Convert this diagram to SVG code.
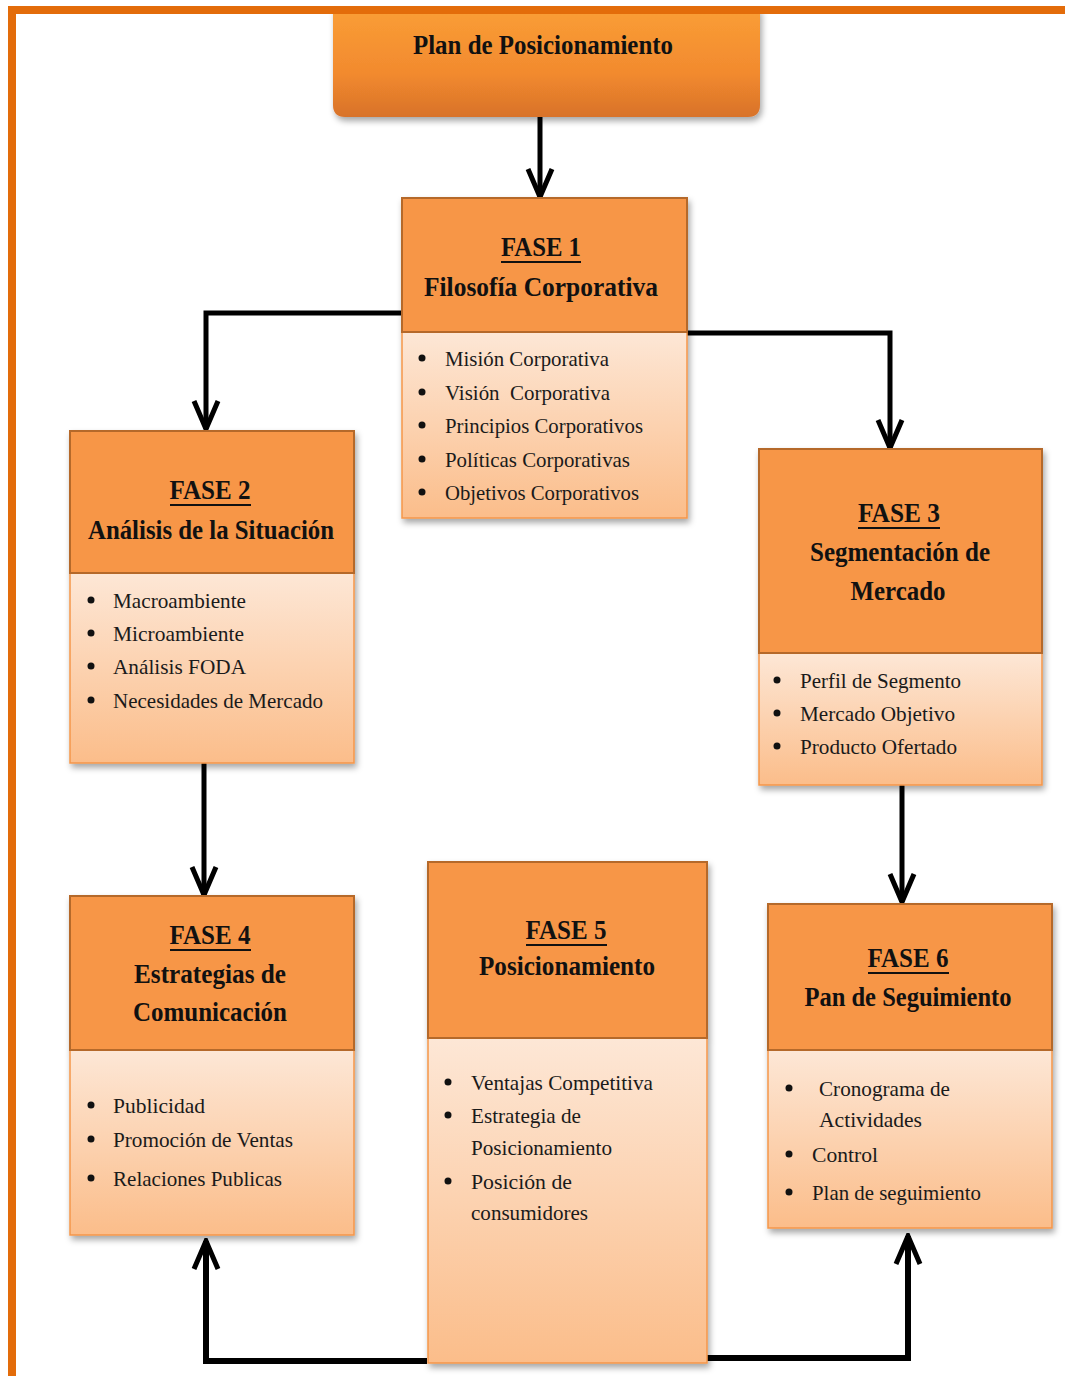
<svg xmlns="http://www.w3.org/2000/svg" width="1065" height="1376" viewBox="0 0 1065 1376">
  <style>
    .hdr { fill: #f79646; stroke: #b5692c; stroke-width: 2; }
    .body { fill: url(#bodyGrad); stroke: #f5964a; stroke-width: 1.5; }
    .title { font-family: "Liberation Serif", "DejaVu Serif", serif; font-weight: bold; font-size: 27px; fill: #111; text-anchor: middle; }
    .item { font-family: "Liberation Serif", "DejaVu Serif", serif; font-size: 22px; fill: #1a1a1a; }
    .ul { stroke: #111; stroke-width: 2; }
    .bullet { fill: #111; }
    .conn { fill: none; stroke: #000; stroke-width: 5; }
  </style>
  <defs>
    <linearGradient id="bodyGrad" x1="0" y1="0" x2="0" y2="1">
      <stop offset="0" stop-color="#fde7d6"/>
      <stop offset="1" stop-color="#fbbd8a"/>
    </linearGradient>
    <linearGradient id="topGrad" x1="0" y1="0" x2="0" y2="1">
      <stop offset="0" stop-color="#fa9e36"/>
      <stop offset="0.6" stop-color="#f28a2e"/>
      <stop offset="1" stop-color="#d8722a"/>
    </linearGradient>
    <filter id="shadow" x="-10%" y="-10%" width="125%" height="125%">
      <feDropShadow dx="2" dy="4" stdDeviation="3" flood-color="#000" flood-opacity="0.35"/>
    </filter>
    <!-- open chevron arrowhead shared by all connectors -->
    <marker id="head" viewBox="0 0 34 30" refX="31" refY="15" markerWidth="34" markerHeight="30" markerUnits="userSpaceOnUse" orient="auto">
      <path d="M3,3 L31,15 L3,27" fill="none" stroke="#000" stroke-width="5" stroke-linejoin="miter"/>
    </marker>
  </defs>

  <rect width="1065" height="1376" fill="#fff"/>

  <!-- connectors -->
  <g id="connectors">
    <path class="conn" d="M540,117 V197" marker-end="url(#head)"/>
    <path class="conn" d="M403,313 H206 V429" marker-end="url(#head)"/>
    <path class="conn" d="M687,333 H890 V448" marker-end="url(#head)"/>
    <path class="conn" d="M204,763 V895" marker-end="url(#head)"/>
    <path class="conn" d="M902,785 V902" marker-end="url(#head)"/>
    <path class="conn" d="M427,1361 H206 V1241" style="stroke-width:6" marker-end="url(#head)"/>
    <path class="conn" d="M707,1358 H908 V1236" style="stroke-width:6" marker-end="url(#head)"/>
  </g>

  <!-- root node -->
  <g id="plan">
    <path d="M333,8 H760 V105 Q760,117 748,117 H345 Q333,117 333,105 Z" fill="url(#topGrad)" filter="url(#shadow)"/>
    <text class="title" x="543" y="54" font-size="26" textLength="260" lengthAdjust="spacingAndGlyphs">Plan de Posicionamiento</text>
  </g>

  <!-- FASE 1 -->
  <g id="fase1">
    <g filter="url(#shadow)">
      <rect class="body" x="402" y="332" width="285" height="186"/>
      <rect class="hdr" x="402" y="198" width="285" height="134"/>
    </g>
    <text class="title" x="541" y="256" textLength="80" lengthAdjust="spacingAndGlyphs">FASE 1</text>
    <line class="ul" x1="501" y1="262" x2="581" y2="262"/>
    <text class="title" x="541" y="296" textLength="234" lengthAdjust="spacingAndGlyphs">Filosofía Corporativa</text>
    <circle class="bullet" cx="422" cy="358" r="3.5"/>
    <circle class="bullet" cx="422" cy="392" r="3.5"/>
    <circle class="bullet" cx="422" cy="425" r="3.5"/>
    <circle class="bullet" cx="422" cy="459" r="3.5"/>
    <circle class="bullet" cx="422" cy="492" r="3.5"/>
    <text class="item" x="445" y="366" textLength="164" lengthAdjust="spacingAndGlyphs">Misión Corporativa</text>
    <text class="item" x="445" y="400" textLength="165" lengthAdjust="spacingAndGlyphs" xml:space="preserve">Visión  Corporativa</text>
    <text class="item" x="445" y="433" textLength="198" lengthAdjust="spacingAndGlyphs">Principios Corporativos</text>
    <text class="item" x="445" y="467" textLength="185" lengthAdjust="spacingAndGlyphs">Políticas Corporativas</text>
    <text class="item" x="445" y="500" textLength="194" lengthAdjust="spacingAndGlyphs">Objetivos Corporativos</text>
  </g>

  <!-- FASE 2 -->
  <g id="fase2">
    <g filter="url(#shadow)">
      <rect class="body" x="70" y="573" width="284" height="190"/>
      <rect class="hdr" x="70" y="431" width="284" height="142"/>
    </g>
    <text class="title" x="210" y="499" textLength="81" lengthAdjust="spacingAndGlyphs">FASE 2</text>
    <line class="ul" x1="170" y1="505" x2="251" y2="505"/>
    <text class="title" x="211" y="539" textLength="246" lengthAdjust="spacingAndGlyphs">Análisis de la Situación</text>
    <circle class="bullet" cx="91" cy="600" r="3.5"/>
    <circle class="bullet" cx="91" cy="633" r="3.5"/>
    <circle class="bullet" cx="91" cy="666" r="3.5"/>
    <circle class="bullet" cx="91" cy="700" r="3.5"/>
    <text class="item" x="113" y="608" textLength="133" lengthAdjust="spacingAndGlyphs">Macroambiente</text>
    <text class="item" x="113" y="641" textLength="131" lengthAdjust="spacingAndGlyphs">Microambiente</text>
    <text class="item" x="113" y="674" textLength="133" lengthAdjust="spacingAndGlyphs">Análisis FODA</text>
    <text class="item" x="113" y="708" textLength="210" lengthAdjust="spacingAndGlyphs">Necesidades de Mercado</text>
  </g>

  <!-- FASE 3 -->
  <g id="fase3">
    <g filter="url(#shadow)">
      <rect class="body" x="759" y="653" width="283" height="132"/>
      <rect class="hdr" x="759" y="449" width="283" height="204"/>
    </g>
    <text class="title" x="899" y="522" textLength="82" lengthAdjust="spacingAndGlyphs">FASE 3</text>
    <line class="ul" x1="858" y1="528" x2="940" y2="528"/>
    <text class="title" x="900" y="561" textLength="180" lengthAdjust="spacingAndGlyphs">Segmentación de</text>
    <text class="title" x="898" y="600" textLength="95" lengthAdjust="spacingAndGlyphs">Mercado</text>
    <circle class="bullet" cx="777" cy="680" r="3.5"/>
    <circle class="bullet" cx="777" cy="713" r="3.5"/>
    <circle class="bullet" cx="777" cy="746" r="3.5"/>
    <text class="item" x="800" y="688" textLength="161" lengthAdjust="spacingAndGlyphs">Perfil de Segmento</text>
    <text class="item" x="800" y="721" textLength="155" lengthAdjust="spacingAndGlyphs">Mercado Objetivo</text>
    <text class="item" x="800" y="754" textLength="157" lengthAdjust="spacingAndGlyphs">Producto Ofertado</text>
  </g>

  <!-- FASE 4 -->
  <g id="fase4">
    <g filter="url(#shadow)">
      <rect class="body" x="70" y="1050" width="284" height="185"/>
      <rect class="hdr" x="70" y="896" width="284" height="154"/>
    </g>
    <text class="title" x="210" y="944" textLength="81" lengthAdjust="spacingAndGlyphs">FASE 4</text>
    <line class="ul" x1="170" y1="950" x2="251" y2="950"/>
    <text class="title" x="210" y="983" textLength="152" lengthAdjust="spacingAndGlyphs">Estrategias de</text>
    <text class="title" x="210" y="1021" textLength="154" lengthAdjust="spacingAndGlyphs">Comunicación</text>
    <circle class="bullet" cx="91" cy="1105" r="3.5"/>
    <circle class="bullet" cx="91" cy="1139" r="3.5"/>
    <circle class="bullet" cx="91" cy="1178" r="3.5"/>
    <text class="item" x="113" y="1113" textLength="92" lengthAdjust="spacingAndGlyphs">Publicidad</text>
    <text class="item" x="113" y="1147" textLength="180" lengthAdjust="spacingAndGlyphs">Promoción de Ventas</text>
    <text class="item" x="113" y="1186" textLength="169" lengthAdjust="spacingAndGlyphs">Relaciones Publicas</text>
  </g>

  <!-- FASE 5 -->
  <g id="fase5">
    <g filter="url(#shadow)">
      <rect class="body" x="428" y="1038" width="279" height="325"/>
      <rect class="hdr" x="428" y="862" width="279" height="176"/>
    </g>
    <text class="title" x="566" y="939" textLength="81" lengthAdjust="spacingAndGlyphs">FASE 5</text>
    <line class="ul" x1="526" y1="945" x2="607" y2="945"/>
    <text class="title" x="567" y="975" textLength="176" lengthAdjust="spacingAndGlyphs">Posicionamiento</text>
    <circle class="bullet" cx="448" cy="1082" r="3.5"/>
    <circle class="bullet" cx="448" cy="1115" r="3.5"/>
    <circle class="bullet" cx="448" cy="1181" r="3.5"/>
    <text class="item" x="471" y="1090" textLength="182" lengthAdjust="spacingAndGlyphs">Ventajas Competitiva</text>
    <text class="item" x="471" y="1123" textLength="110" lengthAdjust="spacingAndGlyphs">Estrategia de</text>
    <text class="item" x="471" y="1155" textLength="141" lengthAdjust="spacingAndGlyphs">Posicionamiento</text>
    <text class="item" x="471" y="1189" textLength="101" lengthAdjust="spacingAndGlyphs">Posición de</text>
    <text class="item" x="471" y="1220" textLength="117" lengthAdjust="spacingAndGlyphs">consumidores</text>
  </g>

  <!-- FASE 6 -->
  <g id="fase6">
    <g filter="url(#shadow)">
      <rect class="body" x="768" y="1050" width="284" height="178"/>
      <rect class="hdr" x="768" y="904" width="284" height="146"/>
    </g>
    <text class="title" x="908" y="967" textLength="81" lengthAdjust="spacingAndGlyphs">FASE 6</text>
    <line class="ul" x1="868" y1="973" x2="949" y2="973"/>
    <text class="title" x="908" y="1006" textLength="207" lengthAdjust="spacingAndGlyphs">Pan de Seguimiento</text>
    <circle class="bullet" cx="789" cy="1088" r="3.5"/>
    <circle class="bullet" cx="789" cy="1154" r="3.5"/>
    <circle class="bullet" cx="789" cy="1192" r="3.5"/>
    <text class="item" x="819" y="1096" textLength="131" lengthAdjust="spacingAndGlyphs">Cronograma de</text>
    <text class="item" x="819" y="1127" textLength="103" lengthAdjust="spacingAndGlyphs">Actividades</text>
    <text class="item" x="812" y="1162" textLength="66" lengthAdjust="spacingAndGlyphs">Control</text>
    <text class="item" x="812" y="1200" textLength="169" lengthAdjust="spacingAndGlyphs">Plan de seguimiento</text>
  </g>

  <!-- page frame -->
  <g id="frame" fill="#e36c0a">
    <rect x="8" y="6" width="1057" height="8"/>
    <rect x="8" y="6" width="8" height="1370"/>
  </g>
</svg>
